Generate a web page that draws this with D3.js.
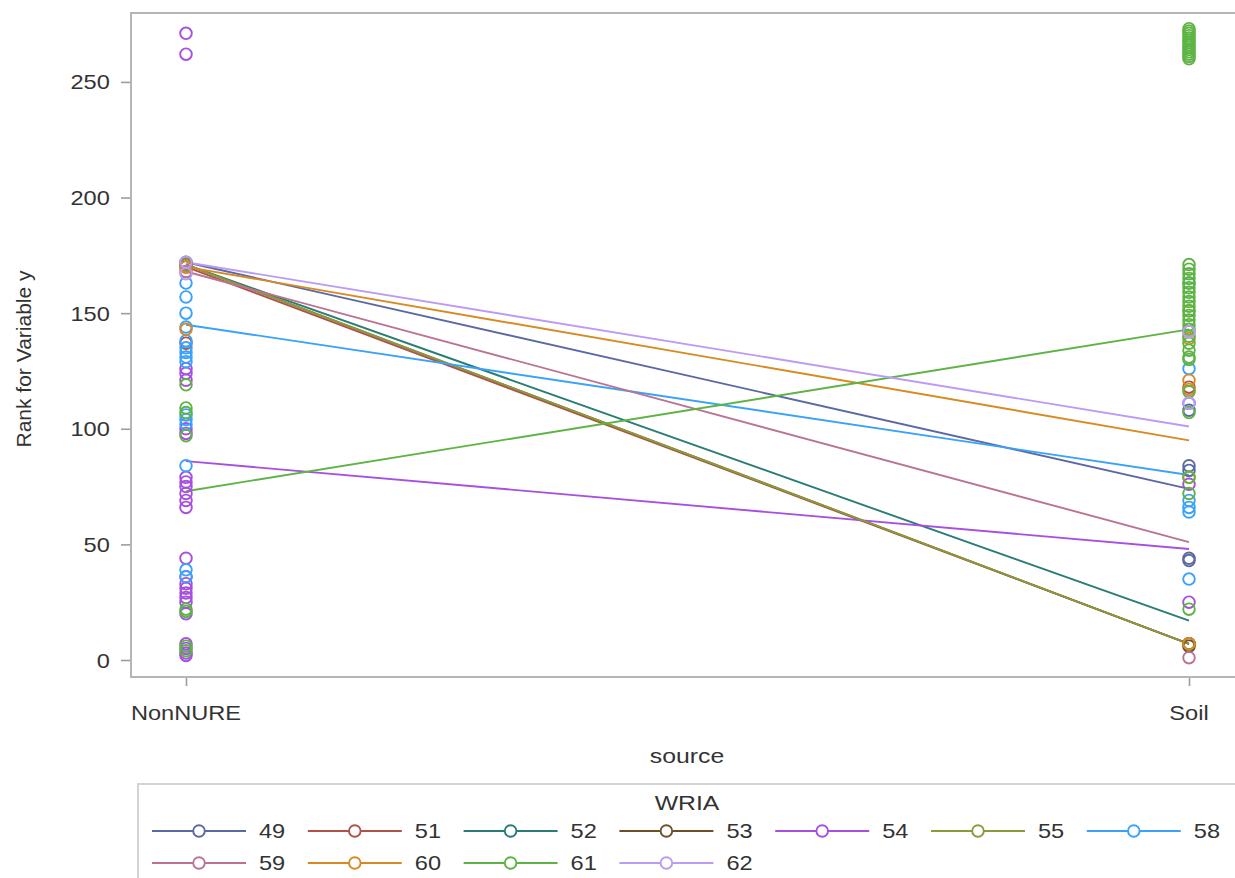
<!DOCTYPE html>
<html>
<head>
<meta charset="utf-8">
<script src="https://cdn.jsdelivr.net/npm/d3@7"></script>
<style>
  html, body { margin: 0; padding: 0; background: #fff; }
  svg { display: block; }
  text { font-family: "Liberation Sans", Arial, sans-serif; fill: #333; }
</style>
</head>
<body>
<svg id="chart" width="1235" height="878"></svg>
<script>
// Sources on the x axis
const sources = ["NonNURE", "Soil"];

// WRIA groups and their series colours
const wria = ["49", "51", "52", "53", "54", "55", "58", "59", "60", "61", "62"];
const colors = ["#5a69a3", "#b0524a", "#2a7d75", "#6f4f2a", "#a650df", "#8c9a3c",
                "#3ba2fa", "#bb7394", "#d88a22", "#5db444", "#bb9bf4"];

// Mean rank per WRIA at each source (line end points)
const meanNonNURE = [172, 170, 171, 171, 86, 171, 145, 168, 170, 73, 172];
const meanSoil    = [74,  7,   17,  7,  48, 7,   80,  51,  95, 143, 101];

// Individual ranks per WRIA, source NonNURE
const rankNonNURE = [
  [172, 171],                                   // 49
  [170, 137],                                   // 51
  [171],                                        // 52
  [171],                                        // 53
  [271, 262, 126, 124, 121, 100, 98, 79, 77, 75, 72, 69, 66, 44, 36, 33, 31, 29, 27, 25, 20, 7, 5, 3, 2], // 54
  [171],                                        // 55
  [163, 157, 150, 144, 138, 135, 133, 131, 129, 106, 104, 102, 84, 39, 36], // 58
  [168],                                        // 59
  [170, 143],                                   // 60
  [119, 109, 107, 97, 22, 21, 6, 4],            // 61
  [172, 167]                                    // 62
];

// Individual ranks per WRIA, source Soil
const rankSoil = [
  [111, 108, 84, 82, 44, 43],                   // 49
  [118, 7],                                     // 51
  [7],                                          // 52
  [7, 6],                                       // 53
  [76, 25],                                     // 54
  [7],                                          // 55
  [163, 126, 69, 66, 64, 35],                   // 58
  [1],                                          // 59
  [151, 142, 139, 121, 117, 79, 7],             // 60
  [273, 272, 271, 270, 269, 268, 267, 266, 265, 264, 263, 262, 261, 260,
   171, 169, 167, 165, 163, 161, 159, 157, 155, 153, 151, 149, 147, 145, 143,
   140, 137, 134, 131, 130, 116, 107, 79, 72, 22],  // 61
  [142, 111]                                    // 62
];

const yTicks = [0, 50, 100, 150, 200, 250];

const svg = d3.select("#chart");
const frame = { left: 131, top: 13, right: 1244, bottom: 677 };
const sx = 1.18; // horizontal stretch of the typeface

const x = d3.scalePoint().domain(sources).range([186, 1189]);
const y = d3.scaleLinear().domain([-7.35, 279.8]).range([frame.bottom, frame.top]);

function stretchedText(parent, px, py, str, size, anchor) {
  const g = parent.append("g").attr("transform", `translate(${px},${py}) scale(${sx},1)`);
  g.append("text").attr("text-anchor", anchor || "middle")
    .style("font-size", size + "px").text(str);
  return g;
}

// Y axis
const yAxis = svg.append("g").attr("transform", `translate(${frame.left},0)`)
  .call(d3.axisLeft(y).tickValues(yTicks).tickSize(10).tickFormat(d3.format("d")));
yAxis.select(".domain").remove();
yAxis.selectAll(".tick line").attr("stroke", "#9a9da0").attr("stroke-width", 1.6);
yAxis.selectAll(".tick text")
  .attr("x", -18).attr("dy", "0.35em")
  .attr("transform", `scale(${sx},1)`)
  .style("font-size", "20px").style("fill", "#333");

// X axis
const xAxis = svg.append("g").attr("transform", `translate(0,${frame.bottom})`)
  .call(d3.axisBottom(x).tickSize(9));
xAxis.select(".domain").remove();
xAxis.selectAll(".tick line").attr("stroke", "#9a9da0").attr("stroke-width", 1.6);
xAxis.selectAll(".tick text").remove();
sources.forEach(s => stretchedText(svg, x(s), frame.bottom + 43, s, 20, "middle"));

// Plot frame
svg.append("rect")
  .attr("x", frame.left).attr("y", frame.top)
  .attr("width", frame.right - frame.left).attr("height", frame.bottom - frame.top)
  .attr("fill", "none").attr("stroke", "#b3b6b9").attr("stroke-width", 2);

// Axis titles
stretchedText(svg, 687, 763, "source", 21, "middle");
svg.append("text")
  .attr("transform", `translate(31,359) rotate(-90)`)
  .attr("text-anchor", "middle")
  .style("font-size", "21px")
  .text("Rank for Variable y");

// Mean lines
const plot = svg.append("g");
wria.forEach((w, i) => {
  plot.append("line")
    .attr("x1", x("NonNURE")).attr("y1", y(meanNonNURE[i]))
    .attr("x2", x("Soil")).attr("y2", y(meanSoil[i]))
    .attr("stroke", colors[i]).attr("stroke-width", 1.9);
});

// Rank markers
wria.forEach((w, i) => {
  const pts = rankNonNURE[i].map(v => ({ s: "NonNURE", v }))
    .concat(rankSoil[i].map(v => ({ s: "Soil", v })));
  plot.append("g").selectAll("circle").data(pts).join("circle")
    .attr("cx", d => x(d.s)).attr("cy", d => y(d.v)).attr("r", 5.8)
    .attr("fill", "none").attr("stroke", colors[i]).attr("stroke-width", 1.9);
});

// Legend
const leg = svg.append("g");
leg.append("rect").attr("x", 138).attr("y", 784).attr("width", 1110).attr("height", 110)
  .attr("fill", "none").attr("stroke", "#d3d3d3").attr("stroke-width", 2);
stretchedText(leg, 687, 810, "WRIA", 21, "middle");
const perRow = 7, colStep = 155.8;
wria.forEach((w, i) => {
  const col = i % perRow, row = Math.floor(i / perRow);
  const x0 = 152 + col * colStep, yy = 831 + row * 32;
  leg.append("line").attr("x1", x0).attr("x2", x0 + 94).attr("y1", yy).attr("y2", yy)
    .attr("stroke", colors[i]).attr("stroke-width", 1.9);
  leg.append("circle").attr("cx", x0 + 47).attr("cy", yy).attr("r", 5.8)
    .attr("fill", "#fff").attr("stroke", colors[i]).attr("stroke-width", 1.9);
  stretchedText(leg, x0 + 107, yy + 7, w, 20, "start");
});
</script>
</body>
</html>
